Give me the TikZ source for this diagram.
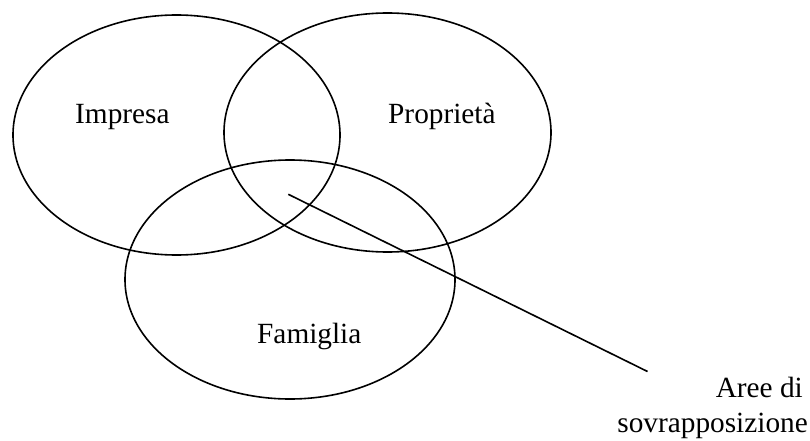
\documentclass[tikz,border=0pt]{standalone}
\usepackage{fontspec}
\setmainfont{Liberation Serif}
\usetikzlibrary{shapes.geometric}
\begin{document}
\begin{tikzpicture}[x=1pt,y=-1pt,
  setring/.style={draw=black,line width=1.6pt,ellipse,inner sep=0pt,
    minimum width=#1},
  label/.style={inner sep=0pt,font=\fontsize{29.3}{34}\selectfont},
  pointer/.style={draw=black,line width=1.6pt}]
  \useasboundingbox (0,0) rectangle (810,441);
  % the three overlapping sets
  \node[setring=327pt,minimum height=240pt] (impresa) at (176.5,135) {};
  \node[setring=327pt,minimum height=239pt] (proprieta) at (387.5,132.5) {};
  \node[setring=330pt,minimum height=239pt] (famiglia) at (290,279.5) {};
  % set names
  \node[label,anchor=base west] (timpresa) at (75,124) {Impresa};
  \node[label,anchor=base west] (tproprieta) at (388,124) {Proprietà};
  \node[label,anchor=base west] (tfamiglia) at (257,343) {Famiglia};
  % callout for the common region
  \node[label,anchor=base east] (aree) at (803,397) {Aree di};
  \node[label,anchor=base east] (sovr) at (808,432) {sovrapposizione};
  \coordinate (tip) at (288.3,194.3);
  \coordinate (tail) at (647.5,371.5);
  \draw[pointer] (tip) -- (tail);
\end{tikzpicture}
\end{document}
